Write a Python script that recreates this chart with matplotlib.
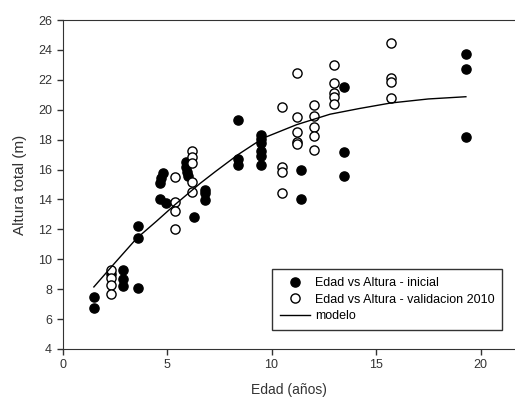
import matplotlib
matplotlib.use("Agg")
import matplotlib.pyplot as plt

plt.rcParams['font.family'] = ['Liberation Sans', 'DejaVu Sans']

# edad (años) / altura total (m) - medición inicial
edad_ini = [1.5, 1.5, 2.3, 2.9, 2.9, 2.9, 3.6, 3.6, 3.6,
            4.8, 4.7, 4.65, 4.65, 4.95,
            5.9, 5.9, 5.95, 6.0, 6.3,
            6.8, 6.8, 6.8,
            8.4, 8.4, 8.4,
            9.5, 9.5, 9.5, 9.5, 9.5, 9.5,
            11.4, 11.4,
            13.45, 13.45, 13.45,
            19.3, 19.3, 19.3]
altura_ini = [7.5, 6.75, 9.0, 9.3, 8.7, 8.2, 8.05, 12.25, 11.4,
              15.75, 15.45, 15.1, 14.0, 13.75,
              16.5, 16.2, 15.85, 15.55, 12.85,
              14.65, 14.4, 13.95,
              19.3, 16.7, 16.3,
              18.3, 18.05, 17.75, 17.25, 16.9, 16.3,
              16.0, 14.0,
              21.5, 17.2, 15.6,
              23.75, 22.75, 18.2]

# validacion 2010
edad_val = [2.3, 2.3, 2.3, 2.3,
            5.4, 5.4, 5.4, 5.4,
            6.2, 6.2, 6.2, 6.2, 6.2,
            10.5, 10.5, 10.5, 10.5,
            11.2, 11.2, 11.2, 11.2, 11.2,
            12.05, 12.05, 12.05, 12.05, 12.05,
            13.0, 13.0, 13.0, 13.0, 13.0,
            15.7, 15.7, 15.7, 15.7]
altura_val = [9.25, 8.75, 8.25, 7.65,
              15.52, 13.85, 13.2, 12.0,
              17.25, 16.85, 16.43, 15.15, 14.5,
              20.15, 16.2, 15.85, 14.43,
              22.45, 19.52, 18.48, 17.86, 17.68,
              20.3, 19.6, 18.86, 18.22, 17.3,
              23.0, 21.8, 21.15, 20.83, 20.38,
              24.45, 22.1, 21.85, 20.8]

# curva del modelo
edad_mod = [1.5, 2.5, 3.55, 4.5, 5.38, 6.58, 7.3, 8.4, 9.6, 11.2, 12.8, 14.2, 15.7, 17.5, 19.3]
altura_mod = [8.15, 9.75, 11.4, 12.55, 13.65, 15.07, 15.85, 17.0, 18.1, 19.0, 19.7, 20.08, 20.45, 20.72, 20.87]

fig = plt.figure(figsize=(5.15, 4.01), dpi=100)
ax = fig.add_axes([0.1214, 0.1297, 0.8786, 0.8204])

ms = 6.6
ax.plot(edad_ini, altura_ini, 'o', color='black', ms=ms, label='Edad vs Altura - inicial')
ax.plot(edad_val, altura_val, 'o', mfc='white', mec='black', mew=1.0, ms=ms,
        label='Edad vs Altura - validacion 2010')
ax.plot(edad_mod, altura_mod, '-', color='black', lw=1.0, label='modelo')

ax.set_xlim(0, 21.65)
ax.set_ylim(4, 26)
ax.set_xticks([0, 5, 10, 15, 20])
ax.set_yticks(range(4, 27, 2))
ax.tick_params(direction='out', length=4, width=1, labelsize=9, colors='#333333')
ax.spines['right'].set_visible(False)
for s in ['left', 'bottom', 'top']:
    ax.spines[s].set_color('#333333')

ax.set_xlabel('Edad (años)', fontsize=10, color='#333333', labelpad=8)
ax.set_ylabel('Altura total (m)', fontsize=11, color='#333333', labelpad=8)

leg = ax.legend(loc='lower right', bbox_to_anchor=(0.971, 0.058), borderaxespad=0,
                fancybox=False, edgecolor='black', fontsize=9, handlelength=2.4,
                labelspacing=0.38, handletextpad=0.4, borderpad=0.6)
leg.get_frame().set_linewidth(1.0)

fig.savefig('out.png', dpi=100)
